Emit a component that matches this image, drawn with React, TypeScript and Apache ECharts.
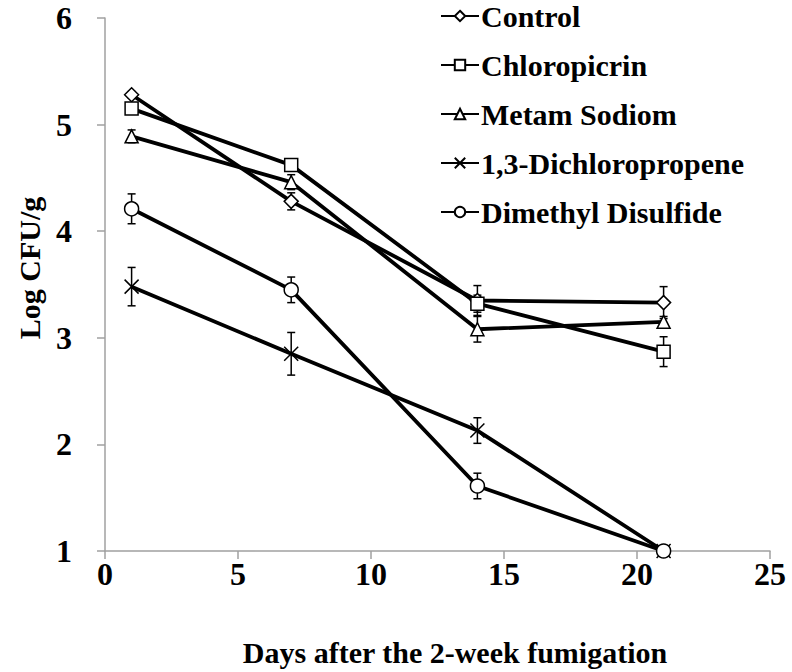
import React, { useEffect, useRef } from "react";
import * as echarts from "echarts";

const days = [1, 7, 14, 21];
const seriesNames = ["Control", "Chloropicrin", "Metam Sodiom", "1,3-Dichloropropene", "Dimethyl Disulfide"];
const control = [5.28, 4.28, 3.35, 3.33];
const controlErr = [0.03, 0.08, 0.14, 0.15];
const chloropicrin = [5.15, 4.62, 3.32, 2.87];
const chloropicrinErr = [0.03, 0.03, 0.08, 0.14];
const metam = [4.89, 4.46, 3.08, 3.15];
const metamErr = [0.06, 0.07, 0.12, 0.05];
const dichloropropene = [3.48, 2.85, 2.13, 1.0];
const dichloropropeneErr = [0.18, 0.2, 0.12, 0];
const dmds = [4.21, 3.45, 1.61, 1.0];
const dmdsErr = [0.14, 0.12, 0.12, 0];
const xTicks = [0, 5, 10, 15, 20, 25];
const yTicks = [1, 2, 3, 4, 5, 6];

const FONT = '"Liberation Serif", "Times New Roman", serif';

export default function App() {
  const ref = useRef<HTMLDivElement>(null);
  useEffect(() => {
    if (!ref.current) return;
    const chart = echarts.init(ref.current, undefined, { renderer: "svg" });
    const values = [control, chloropicrin, metam, dichloropropene, dmds];
    const errs = [controlErr, chloropicrinErr, metamErr, dichloropropeneErr, dmdsErr];
    const symbols = ["diamond", "rect", "triangle", "path://M0,0L10,10M10,0L0,10", "circle"];
    const sizes = [14, 13, 13, 14, 14];

    const lineSeries = values.map((v, i) => ({
      name: seriesNames[i],
      type: "line",
      data: days.map((d, j) => [d, v[j]]),
      symbol: symbols[i],
      symbolSize: sizes[i],
      showAllSymbol: true,
      color: "#000",
      lineStyle: { color: "#000", width: 3.8 },
      itemStyle: { color: "#fff", borderColor: "#000", borderWidth: 1.5 },
      z: 3,
    }));

    const errData: number[][] = [];
    values.forEach((v, i) => {
      days.forEach((d, j) => {
        if (errs[i][j] > 0) errData.push([d, v[j], errs[i][j]]);
      });
    });

    const errSeries = {
      type: "custom",
      data: errData,
      z: 2,
      silent: true,
      renderItem: (params: any, api: any) => {
        const x = api.value(0);
        const y = api.value(1);
        const e = api.value(2);
        const t = api.coord([x, y + e]);
        const b = api.coord([x, y - e]);
        const w = 4;
        const st = { stroke: "#000", lineWidth: 1.5 };
        return {
          type: "group",
          children: [
            { type: "line", shape: { x1: t[0], y1: t[1], x2: b[0], y2: b[1] }, style: st },
            { type: "line", shape: { x1: t[0] - w, y1: t[1], x2: t[0] + w, y2: t[1] }, style: st },
            { type: "line", shape: { x1: b[0] - w, y1: b[1], x2: b[0] + w, y2: b[1] }, style: st },
          ],
        };
      },
    };

    const labelStyle = { fontFamily: FONT, fontWeight: "bold", fontSize: 30, color: "#000" };
    const tickStyle = { fontFamily: FONT, fontWeight: "bold", fontSize: 32, color: "#000" };

    chart.setOption({
      animation: false,
      backgroundColor: "#fff",
      grid: { left: 105, right: 22, top: 18, bottom: 121, containLabel: false },
      xAxis: {
        type: "value",
        min: xTicks[0],
        max: xTicks[xTicks.length - 1],
        interval: 5,
        axisLine: { lineStyle: { color: "#a0a0a0", width: 1.5 } },
        axisTick: { show: true, inside: false, length: 8, lineStyle: { color: "#a0a0a0", width: 1.5 } },
        splitLine: { show: false },
        axisLabel: { ...tickStyle, margin: 7 },
      },
      yAxis: {
        type: "value",
        min: yTicks[0],
        max: yTicks[yTicks.length - 1],
        interval: 1,
        axisLine: { show: true, lineStyle: { color: "#a0a0a0", width: 1.5 } },
        axisTick: { show: true, inside: false, length: 8, lineStyle: { color: "#a0a0a0", width: 1.5 } },
        splitLine: { show: false },
        axisLabel: { ...tickStyle, margin: 33 },
      },
      legend: {
        data: seriesNames,
        orient: "vertical",
        left: 435,
        top: -4,
        itemWidth: 38,
        itemHeight: 13,
        itemGap: 19,
        textStyle: { ...labelStyle, lineHeight: 30, padding: [0, 0, 0, -3] },
      },
      graphic: [
        {
          type: "text",
          x: 29,
          y: 268,
          rotation: Math.PI / 2,
          style: {
            text: "Log CFU/g",
            fontFamily: FONT,
            fontWeight: "bold",
            fontSize: 30,
            fill: "#000",
            align: "center",
            verticalAlign: "middle",
          },
        },
        {
          type: "text",
          x: 455,
          y: 652,
          style: {
            text: "Days after the 2-week fumigation",
            fontFamily: FONT,
            fontWeight: "bold",
            fontSize: 30,
            fill: "#000",
            align: "center",
            verticalAlign: "middle",
          },
        },
      ],
      series: [errSeries, ...lineSeries],
    });
    return () => chart.dispose();
  }, []);
  return <div ref={ref} style={{ width: 792, height: 672, position: "absolute", left: 0, top: 0 }} />;
}
